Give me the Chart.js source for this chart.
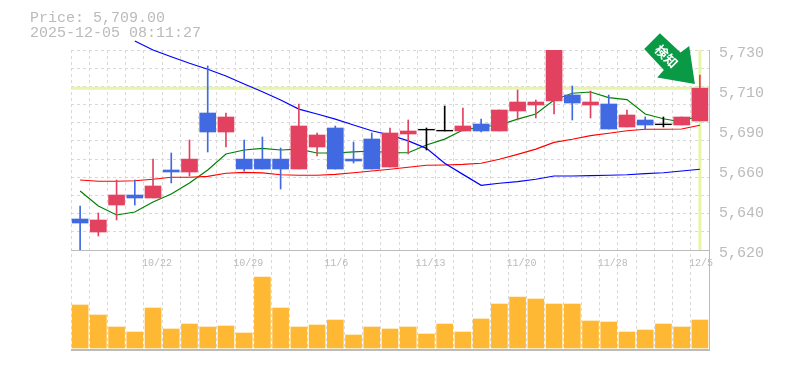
<!DOCTYPE html>
<html>
<head>
<meta charset="utf-8">
<style>
  html, body { margin: 0; padding: 0; background: #fff; }
  canvas { display: block; }
</style>
<script src="https://cdn.jsdelivr.net/npm/chart.js@4"></script>
</head>
<body>
<canvas id="chart" width="785" height="370"></canvas>
<script>
// ── DATA ───────────────────────────────────────────────────────────────
const TITLE_LINES = ['Price: 5,709.00', '2025-12-05 08:11:27'];
const LAST_PRICE = 5709;
const ARROW_LABEL = '検知';

const dates = ['10/16', '10/17', '10/20', '10/21', '10/22', '10/23', '10/24', '10/27', '10/28',
  '10/29', '10/30', '10/31', '11/4', '11/5', '11/6', '11/7', '11/10', '11/11', '11/12',
  '11/13', '11/14', '11/17', '11/18', '11/19', '11/20', '11/21', '11/25', '11/26', '11/27',
  '11/28', '12/1', '12/2', '12/3', '12/4', '12/5'];
const dateLabels = ['10/22', '10/29', '11/6', '11/13', '11/20', '11/28', '12/5'];

const opens = [5637.05, 5629.9, 5644.75, 5650.25, 5648.6, 5664, 5662.9, 5695.35, 5684.9,
  5670, 5670, 5670, 5664.55, 5676.65, 5687.1, 5670, 5681.05, 5665.65, 5683.8,
  5686, 5685.45, 5685.45, 5689.3, 5685.45, 5696.45, 5699.75, 5701.95, 5705.25, 5699.75,
  5700.3, 5687.65, 5691.5, 5688.9, 5688.75, 5690.95];
const closes = [5634.85, 5636.5, 5650.25, 5648.6, 5655.2, 5662.9, 5670, 5684.9, 5693.15,
  5664.55, 5664.55, 5664.55, 5688.2, 5683.25, 5664.55, 5668.95, 5664.55, 5684.35, 5685.45,
  5686, 5685.45, 5688.2, 5685.45, 5697, 5701.4, 5701.4, 5730, 5700.85, 5701.4,
  5686.55, 5694.25, 5688.75, 5688.9, 5693.15, 5709];
const highs = [5644.2, 5640.35, 5658.5, 5658.5, 5670, 5673.35, 5680.5, 5721.2, 5695.35,
  5680.5, 5682.15, 5676.1, 5700.3, 5684.35, 5688.2, 5679.4, 5684.35, 5687.1, 5691.5,
  5687.1, 5699.2, 5698.1, 5692.05, 5697, 5708, 5702.5, 5730, 5710.2, 5707.45,
  5705.25, 5697, 5693.15, 5693.15, 5693.15, 5716.25];
const lows = [5620, 5627.7, 5636.5, 5644.75, 5648.6, 5656.85, 5660.7, 5673.9, 5676.65,
  5663.45, 5664.55, 5653.55, 5664.55, 5671.7, 5664.55, 5667.85, 5664.55, 5665.65, 5672.8,
  5675, 5685.45, 5685.45, 5684.9, 5685.45, 5691.5, 5692.6, 5694.8, 5691.5, 5692.6,
  5686.55, 5687.65, 5686.55, 5687.65, 5688.75, 5690.95];

const maShort = [5652.45, 5644.2, 5639.25, 5640.9, 5646.4, 5650.8, 5656.85, 5664, 5672.8,
  5675, 5675.9, 5675, 5675.5, 5673.35, 5673.35, 5674, 5674.45, 5673.5, 5673.5,
  5677.75, 5681, 5686, 5687.65, 5688.75, 5692, 5694.8, 5702.5, 5706.2, 5706.9,
  5703.8, 5702.7, 5694.8, 5692.2, 5690.4, 5694.25];
const maMid = [5658.5, 5657.8, 5657.8, 5658.1, 5658.9, 5660, 5660, 5660.5, 5662.2,
  5662.7, 5662.4, 5661.4, 5661.1, 5661.1, 5661.6, 5662.5, 5663.45, 5664.4, 5665.5,
  5666.6, 5666.75, 5667.1, 5667.7, 5669.9, 5672.6, 5675.5, 5679.2, 5680.9, 5682.9,
  5684.2, 5685.6, 5686.4, 5686.4, 5686.55, 5688.6];
const maLong = [null, null, null, 5734.95, 5730, 5726.3, 5722.7, 5719.4, 5715.7,
  5711.3, 5707, 5702.5, 5697.5, 5694.8, 5692, 5688.75, 5685.6, 5683.25, 5680,
  5675.9, 5667.7, 5661.6, 5655.6, 5656.7, 5657.6, 5658.9, 5660.7, 5660.7, 5660.9,
  5661.1, 5661.4, 5662, 5662.5, 5663.45, 5664.4];

const volumes = [43, 33, 21, 16, 40, 19, 24, 21, 22, 15, 71, 40, 21, 23, 28, 13, 21, 19,
  21, 14, 24, 16, 29, 44, 51, 49, 44, 44, 27, 26, 16, 18, 24, 21, 28];

const yGridTicks = [5620, 5630, 5640, 5650, 5660, 5670, 5680, 5690, 5700, 5710, 5720, 5730];
const yLabelTicks = [5620, 5642, 5664, 5686, 5708, 5730];

// ── COLORS ─────────────────────────────────────────────────────────────
const UP_COLOR = '#e24260';
const DOWN_COLOR = '#4169e1';
const FLAT_COLOR = '#000000';
const GRID_COLOR = '#d8d8d8';
const AXIS_COLOR = '#bbbbbb';
const TEXT_COLOR = '#bbbbbb';
const MARKER_COLOR = '#e6f5a8';
const ARROW_COLOR = '#0a9a46';
const MONO = '"Liberation Mono", monospace';

const candleColors = opens.map((o, i) =>
  closes[i] > o ? UP_COLOR : closes[i] < o ? DOWN_COLOR : FLAT_COLOR);

// a doji has no height, give it one pixel or so to be visible
const bodies = opens.map((o, i) => (o === closes[i] ? [o, o + 0.4] : [o, closes[i]]));
const wicks = lows.map((l, i) => [l, highs[i]]);

// ── EXTRAS DRAWN THROUGH THE SCALES ────────────────────────────────────
const lastPriceMarker = {
  id: 'lastPriceMarker',
  beforeDatasetsDraw(chart) {
    const { ctx, chartArea, scales } = chart;
    const py = scales.y.getPixelForValue(LAST_PRICE);
    const px = scales.x.getPixelForValue(dates.length - 1);
    ctx.save();
    ctx.strokeStyle = MARKER_COLOR;
    ctx.lineWidth = 3;
    ctx.beginPath();
    ctx.moveTo(chartArea.left, py);
    ctx.lineTo(chartArea.right, py);
    ctx.moveTo(px, scales.y.top);
    ctx.lineTo(px, scales.y.bottom);
    ctx.stroke();
    ctx.restore();
  },
};

const annotations = {
  id: 'annotations',
  afterDraw(chart) {
    const { ctx, scales } = chart;
    // title
    ctx.save();
    ctx.fillStyle = TEXT_COLOR;
    ctx.font = '15px ' + MONO;
    ctx.textBaseline = 'middle';
    ctx.textAlign = 'left';
    TITLE_LINES.forEach((line, i) => ctx.fillText(line, 30, 18 + i * 15));
    ctx.restore();

    // arrow, offsets are from the last close
    const ox = scales.x.getPixelForValue(dates.length - 1);
    const oy = scales.y.getPixelForValue(LAST_PRICE);
    const outline = [[-40, -55], [-19.3, -35.7], [-10.7, -42.3], [-5, -4.3],
      [-42.7, -10.7], [-36, -18.3], [-55.7, -39.3]];
    ctx.save();
    ctx.fillStyle = ARROW_COLOR;
    ctx.beginPath();
    outline.forEach(([dx, dy], i) => {
      if (i === 0) ctx.moveTo(ox + dx, oy + dy);
      else ctx.lineTo(ox + dx, oy + dy);
    });
    ctx.closePath();
    ctx.fill();
    ctx.translate(ox - 33.5, oy - 32);
    ctx.rotate(Math.PI / 4);
    ctx.fillStyle = '#ffffff';
    ctx.font = 'bold 13px "Noto Sans CJK JP"';
    ctx.textAlign = 'center';
    ctx.textBaseline = 'middle';
    ctx.fillText(ARROW_LABEL, 0, 0);
    ctx.restore();
  },
};

// ── CHART ──────────────────────────────────────────────────────────────
function lineSet(values, color) {
  return {
    type: 'line',
    data: values,
    yAxisID: 'y',
    borderColor: color,
    borderWidth: 1.2,
    pointRadius: 0,
    tension: 0,
    spanGaps: false,
    clip: false,
    order: 3,
  };
}

new Chart(document.getElementById('chart'), {
  type: 'bar',
  data: {
    labels: dates,
    datasets: [
      lineSet(maLong, '#0000ff'),
      lineSet(maMid, '#ff0000'),
      lineSet(maShort, '#008000'),
      {
        data: wicks,
        yAxisID: 'y',
        backgroundColor: candleColors,
        barThickness: 1,
        grouped: false,
        order: 2,
      },
      {
        data: bodies,
        yAxisID: 'y',
        backgroundColor: candleColors,
        barThickness: 16,
        grouped: false,
        order: 1,
      },
      {
        data: volumes,
        yAxisID: 'yVol',
        backgroundColor: '#ffb833',
        barThickness: 16,
        grouped: false,
        order: 4,
      },
    ],
  },
  options: {
    responsive: false,
    animation: false,
    layout: { padding: { top: 50, bottom: 20, left: 71, right: 0 } },
    plugins: { legend: { display: false }, tooltip: { enabled: false } },
    scales: {
      x: {
        position: { yVol: 98 },
        offset: true,
        grid: { offset: true, color: GRID_COLOR, drawTicks: false },
        border: { color: AXIS_COLOR, dash: [3, 3] },
        ticks: {
          autoSkip: false,
          maxRotation: 0,
          minRotation: 0,
          align: 'start',
          labelOffset: -11,
          padding: 7,
          color: TEXT_COLOR,
          font: { family: MONO, size: 10 },
          callback(value) {
            const label = this.getLabelForValue(value);
            return dateLabels.includes(label) ? label : '';
          },
        },
      },
      y: {
        position: 'right',
        stack: 'panels',
        stackWeight: 2,
        min: 5620,
        max: 5730,
        afterBuildTicks(axis) {
          const values = [...new Set([...yGridTicks, ...yLabelTicks])].sort((a, b) => a - b);
          axis.ticks = values.map((value) => ({ value }));
        },
        afterFit(axis) { axis.width = 76; },
        grid: {
          drawTicks: false,
          color: (ctx) => (yGridTicks.includes(ctx.tick.value) ? GRID_COLOR : 'rgba(0,0,0,0)'),
        },
        border: { color: AXIS_COLOR, dash: [3, 3] },
        ticks: {
          autoSkip: false,
          padding: 10,
          labelOffset: 3,
          color: TEXT_COLOR,
          font: { family: MONO, size: 15 },
          callback(value) {
            if (!yLabelTicks.includes(value)) return '';
            return (Math.round(value / 10) * 10).toLocaleString('en-US');
          },
        },
      },
      yVol: {
        position: 'right',
        stack: 'panels',
        stackWeight: 1,
        min: -2,
        max: 98,
        afterBuildTicks(axis) { axis.ticks = [{ value: -2 }]; },
        afterFit(axis) { axis.width = 76; },
        grid: { drawTicks: false, color: AXIS_COLOR, lineWidth: 2 },
        border: { color: AXIS_COLOR },
        ticks: { display: false },
      },
    },
  },
  plugins: [lastPriceMarker, annotations],
});
</script>
</body>
</html>
